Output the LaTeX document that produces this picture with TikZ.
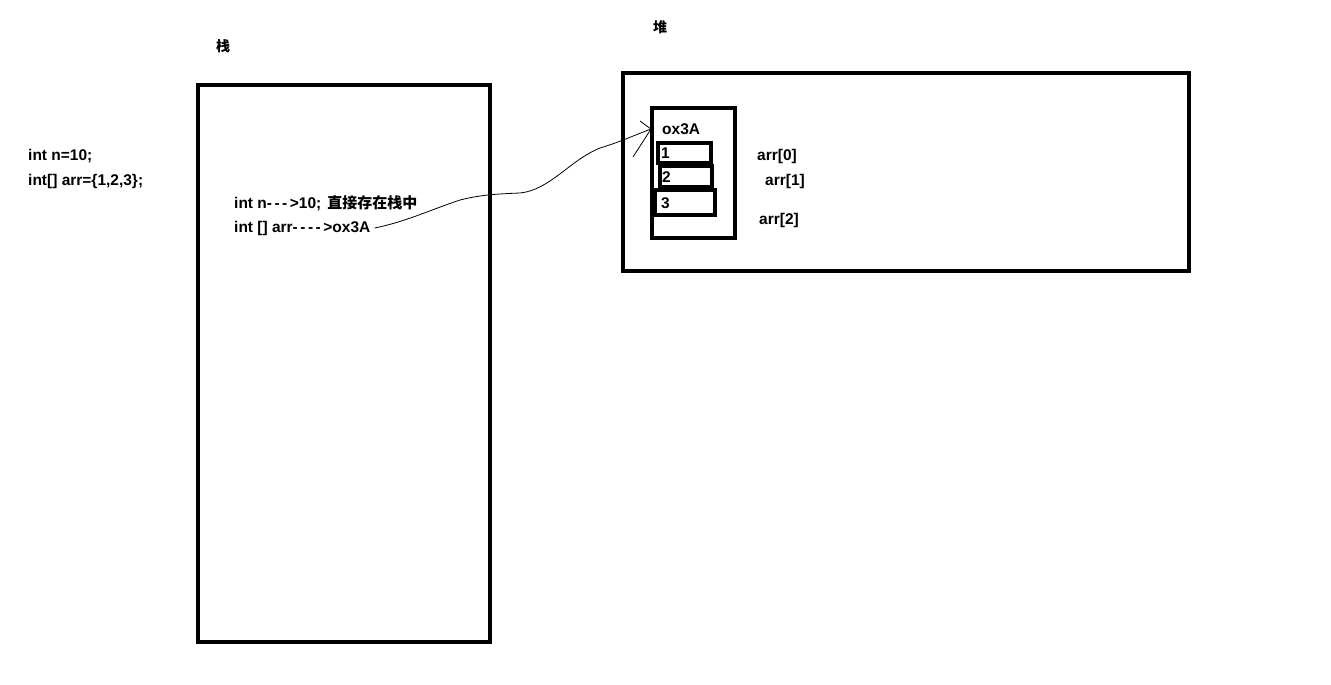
\documentclass[tikz,border=0pt]{standalone}
\usepackage{fontspec}
\setmainfont{Liberation Sans}
\newfontfamily\cjk{Noto Sans CJK SC}
\newcommand{\dsh}{-\kern2.5pt}
\begin{document}
\begin{tikzpicture}[x=1pt,y=-1pt,
  box/.style={draw=black,line width=4pt,fill=none},
  lbl/.style={inner sep=0pt,anchor=west,font=\fontsize{15.5}{17}\selectfont\bfseries},
  cjklbl/.style={inner sep=0pt,anchor=west,font=\fontsize{14}{16}\selectfont\cjk\bfseries}]
\useasboundingbox[fill=white] (0,0) rectangle (1331,685);
% stack and heap
\draw[box] (198,85) rectangle (490,642);
\draw[box] (623,73) rectangle (1189,271);
\draw[box] (652,108) rectangle (735,238);
\draw[box] (658,143) rectangle (711,163);
\draw[box] (660,166) rectangle (712,187);
\draw[box] (655,190) rectangle (715,215);
% titles
\node[cjklbl] (zhan) at (216,46) {栈};
\node[cjklbl] (dui) at (653,27) {堆};
% code
\node[lbl] (c1) at (28,156) {int n=10;};
\node[lbl] (c2) at (28,181) {int[] arr=\{1,2,3\};};
\node[lbl] (s1) at (234,203) {int n\dsh\dsh\dsh>10;\hspace{6pt}{\cjk\fontsize{15}{17}\selectfont 直接存在栈中}};
\node[lbl] (s2) at (234,228) {int [] arr\dsh\dsh\dsh\dsh>ox3A};
% heap contents
\node[lbl] (addr) at (662,129) {ox3A};
\node[lbl] (v1) at (661,153) {1};
\node[lbl] (v2) at (662,177) {2};
\node[lbl] (v3) at (661,203) {3};
\node[lbl] (a0) at (757,156) {arr[0]};
\node[lbl] (a1) at (765,181) {arr[1]};
\node[lbl] (a2) at (759,220) {arr[2]};
% reference arrow
\coordinate (tip) at (651,129);
\coordinate (b1) at (640,121);
\coordinate (b2) at (633,157);
\draw[line width=0.8pt] ([xshift=4pt]s2.east) .. controls (405,222) and (430,210) .. (460,200)
   .. controls (480,195) and (495,194) .. (520,193)
   .. controls (550,190) and (570,160) .. (600,148)
   .. controls (620,142) and (635,135) .. (tip);
\draw[line width=0.8pt] (b1) -- (tip);
\draw[line width=0.8pt] (b2) -- (tip);
\end{tikzpicture}
\end{document}
